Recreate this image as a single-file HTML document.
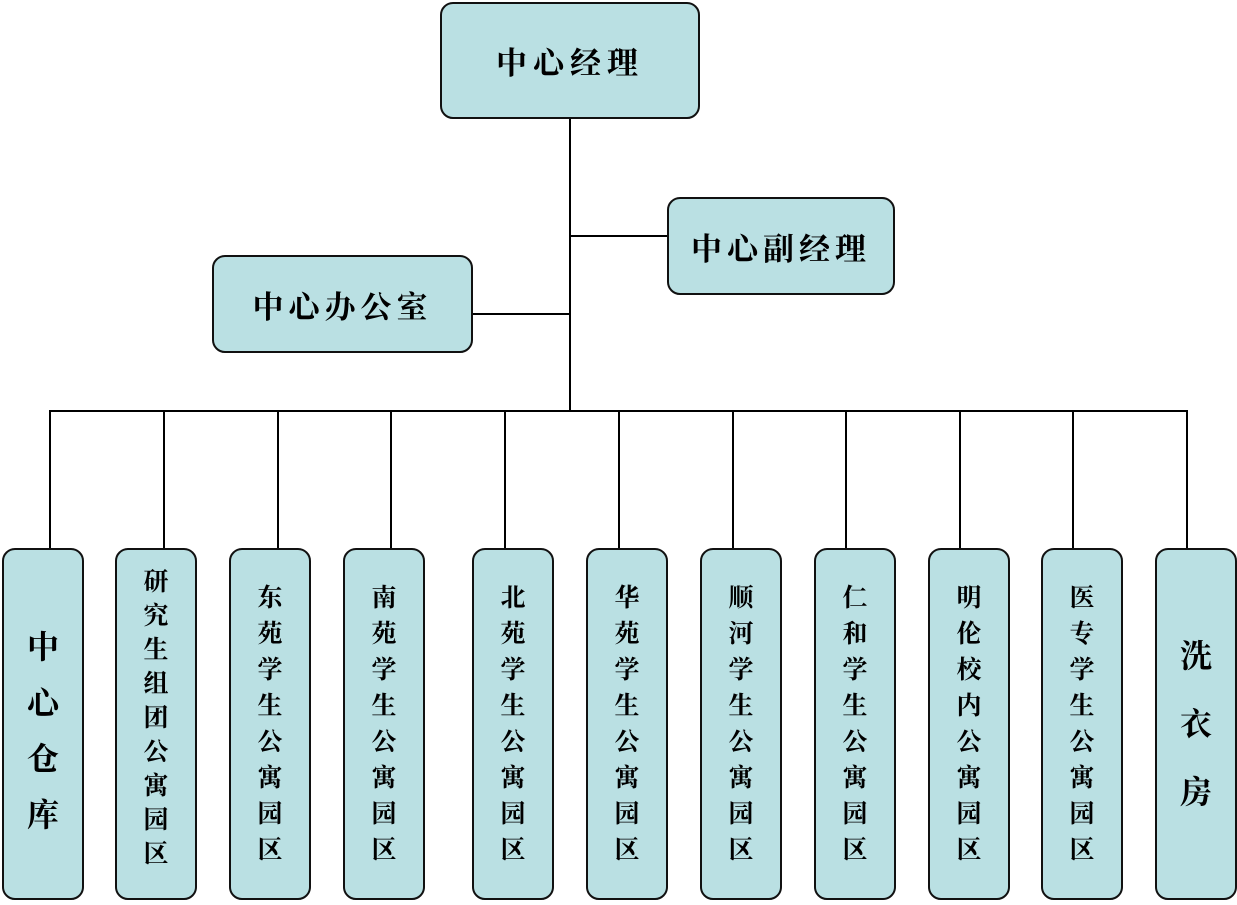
<!DOCTYPE html>
<html><head><meta charset="utf-8"><style>
html,body{margin:0;padding:0;background:#fff;}
body{width:1237px;height:905px;position:relative;overflow:hidden;font-family:"Liberation Serif","Noto Serif CJK SC",serif;}
.b{position:absolute;box-sizing:border-box;background:#bae0e3;border:2px solid #111;border-radius:13px;display:flex;align-items:center;justify-content:center;color:#000;font-weight:bold;}
.l{position:absolute;background:#000;}
.v{flex-direction:column;line-height:1;}
.v span{display:block;}
</style></head><body>
<div class="l" style="left:569px;top:118px;width:2px;height:294px"></div>
<div class="l" style="left:571px;top:235px;width:97px;height:2px"></div>
<div class="l" style="left:472px;top:313px;width:98px;height:2px"></div>
<div class="l" style="left:49px;top:410px;width:1139px;height:2px"></div>
<div class="l" style="left:49px;top:411px;width:2px;height:138px"></div>
<div class="l" style="left:163px;top:411px;width:2px;height:138px"></div>
<div class="l" style="left:277px;top:411px;width:2px;height:138px"></div>
<div class="l" style="left:390px;top:411px;width:2px;height:138px"></div>
<div class="l" style="left:504px;top:411px;width:2px;height:138px"></div>
<div class="l" style="left:618px;top:411px;width:2px;height:138px"></div>
<div class="l" style="left:732px;top:411px;width:2px;height:138px"></div>
<div class="l" style="left:845px;top:411px;width:2px;height:138px"></div>
<div class="l" style="left:959px;top:411px;width:2px;height:138px"></div>
<div class="l" style="left:1072px;top:411px;width:2px;height:138px"></div>
<div class="l" style="left:1186px;top:411px;width:2px;height:138px"></div>

<div class="b" style="left:440px;top:2px;width:260px;height:117px;font-size:31px;letter-spacing:6px">中心经理</div>
<div class="b" style="left:667px;top:197px;width:228px;height:98px;font-size:31px;letter-spacing:5px">中心副经理</div>
<div class="b" style="left:212px;top:255px;width:261px;height:98px;font-size:31px;letter-spacing:5px">中心办公室</div>

<div class="b v" style="left:2px;top:548px;width:82px;height:352px;font-size:32px;gap:24px;padding-top:14px"><span>中</span><span>心</span><span>仓</span><span>库</span></div>
<div class="b v" style="left:115px;top:548px;width:82px;height:352px;font-size:25px;gap:9px;padding-bottom:12px"><span>研</span><span>究</span><span>生</span><span>组</span><span>团</span><span>公</span><span>寓</span><span>园</span><span>区</span></div>
<div class="b v" style="left:229px;top:548px;width:82px;height:352px;font-size:25px;gap:11px"><span>东</span><span>苑</span><span>学</span><span>生</span><span>公</span><span>寓</span><span>园</span><span>区</span></div>
<div class="b v" style="left:343px;top:548px;width:82px;height:352px;font-size:25px;gap:11px"><span>南</span><span>苑</span><span>学</span><span>生</span><span>公</span><span>寓</span><span>园</span><span>区</span></div>
<div class="b v" style="left:472px;top:548px;width:82px;height:352px;font-size:25px;gap:11px"><span>北</span><span>苑</span><span>学</span><span>生</span><span>公</span><span>寓</span><span>园</span><span>区</span></div>
<div class="b v" style="left:586px;top:548px;width:82px;height:352px;font-size:25px;gap:11px"><span>华</span><span>苑</span><span>学</span><span>生</span><span>公</span><span>寓</span><span>园</span><span>区</span></div>
<div class="b v" style="left:700px;top:548px;width:82px;height:352px;font-size:25px;gap:11px"><span>顺</span><span>河</span><span>学</span><span>生</span><span>公</span><span>寓</span><span>园</span><span>区</span></div>
<div class="b v" style="left:814px;top:548px;width:82px;height:352px;font-size:25px;gap:11px"><span>仁</span><span>和</span><span>学</span><span>生</span><span>公</span><span>寓</span><span>园</span><span>区</span></div>
<div class="b v" style="left:928px;top:548px;width:82px;height:352px;font-size:25px;gap:11px"><span>明</span><span>伦</span><span>校</span><span>内</span><span>公</span><span>寓</span><span>园</span><span>区</span></div>
<div class="b v" style="left:1041px;top:548px;width:82px;height:352px;font-size:25px;gap:11px"><span>医</span><span>专</span><span>学</span><span>生</span><span>公</span><span>寓</span><span>园</span><span>区</span></div>
<div class="b v" style="left:1155px;top:548px;width:82px;height:352px;font-size:32px;gap:36px;padding-bottom:0px"><span>洗</span><span>衣</span><span>房</span></div>
</body></html>
